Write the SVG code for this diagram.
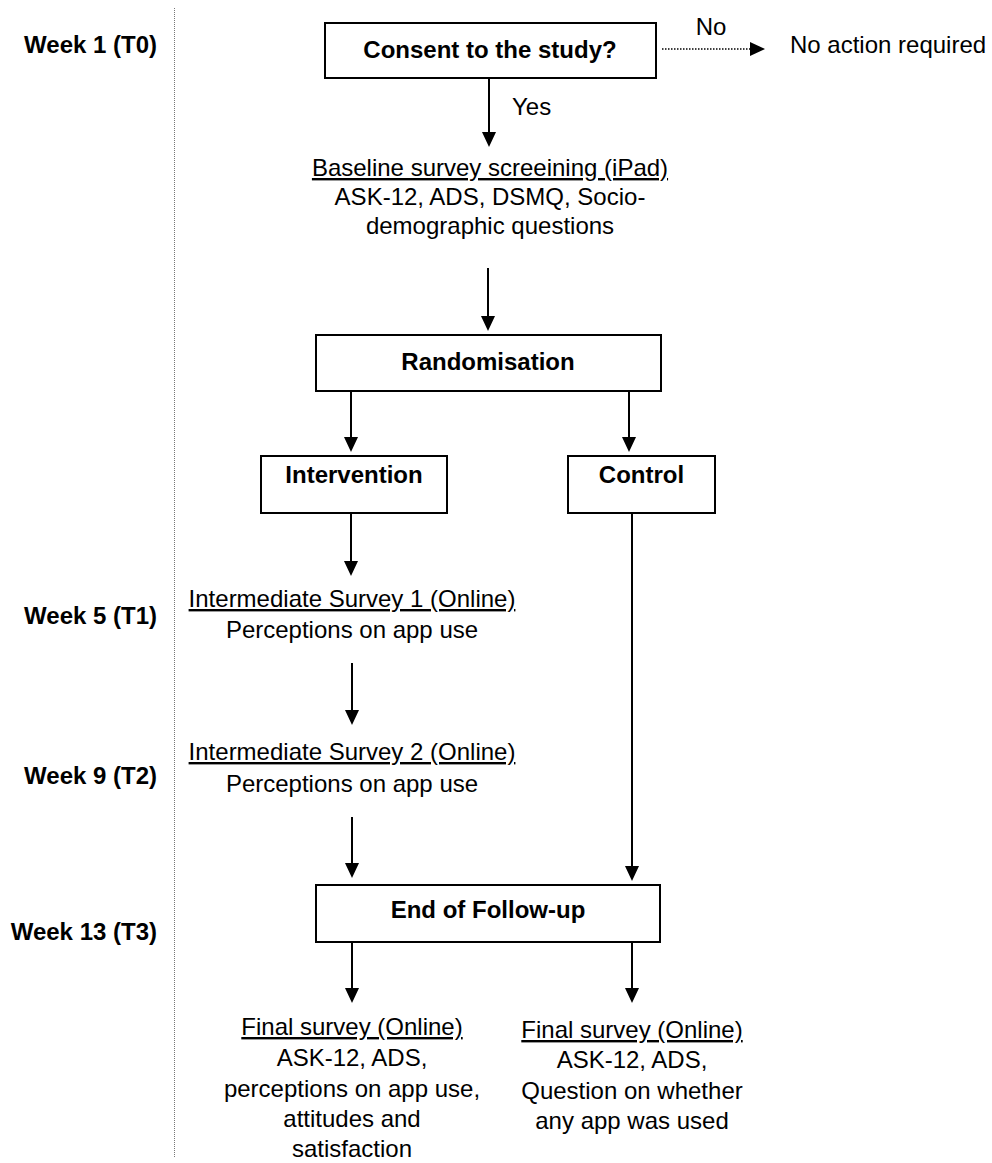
<svg xmlns="http://www.w3.org/2000/svg" width="992" height="1163" viewBox="0 0 992 1163">
  <style>
    text { font-family: "Liberation Sans", Arial, sans-serif; font-size: 24px; fill: #000; }
    .b { font-weight: bold; }
    .c { text-anchor: middle; }
    .wk { font-weight: bold; text-anchor: end; }
    .u { text-decoration: underline; }
    .box { fill: #fff; stroke: #000; stroke-width: 2; }
    .arr { stroke: #000; stroke-width: 2; fill: none; marker-end: url(#head); }
    .dot { stroke: #000; stroke-width: 1.5; stroke-dasharray: 1.5 1.5; fill: none; marker-end: url(#head); }
    .timeline { stroke: #777; stroke-width: 1; stroke-dasharray: 1 1; fill: none; }
  </style>
  <defs>
    <marker id="head" viewBox="0 0 15 14" refX="7" refY="7" markerWidth="15" markerHeight="14" markerUnits="userSpaceOnUse" orient="auto">
      <path d="M0,0 L15,7 L0,14 Z" fill="#000"/>
    </marker>
  </defs>

  <!-- time axis -->
  <g id="timeline">
    <line class="timeline" x1="174.5" y1="8" x2="174.5" y2="1157"/>
    <text class="wk" x="157" y="53">Week 1 (T0)</text>
    <text class="wk" x="157" y="624">Week 5 (T1)</text>
    <text class="wk" x="157" y="784">Week 9 (T2)</text>
    <text class="wk" x="157" y="940">Week 13 (T3)</text>
  </g>

  <!-- connectors (line end + 8 = arrow tip) -->
  <g id="connectors">
    <line class="dot" x1="662" y1="49" x2="757" y2="49"/>
    <text x="711" y="35" class="c">No</text>
    <line class="arr" x1="489" y1="78" x2="489" y2="139"/>
    <text x="512" y="115">Yes</text>
    <line class="arr" x1="488" y1="268" x2="488" y2="323"/>
    <line class="arr" x1="351" y1="391" x2="351" y2="444"/>
    <line class="arr" x1="629" y1="391" x2="629" y2="444"/>
    <line class="arr" x1="351" y1="513" x2="351" y2="568"/>
    <line class="arr" x1="352" y1="663" x2="352" y2="717"/>
    <line class="arr" x1="352" y1="817" x2="352" y2="870"/>
    <line class="arr" x1="632" y1="513" x2="632" y2="873"/>
    <line class="arr" x1="352" y1="942" x2="352" y2="995"/>
    <line class="arr" x1="632" y1="942" x2="632" y2="995"/>
  </g>

  <g id="consent">
    <rect class="box" x="325" y="23" width="331" height="55"/>
    <text class="b c" x="490" y="58">Consent to the study?</text>
  </g>

  <g id="no-action">
    <text x="790" y="53">No action required</text>
  </g>

  <g id="baseline">
    <text class="c u" x="490" y="176">Baseline survey screeining (iPad)</text>
    <text class="c" x="490" y="205">ASK-12, ADS, DSMQ, Socio-</text>
    <text class="c" x="490" y="234">demographic questions</text>
  </g>

  <g id="randomisation">
    <rect class="box" x="316" y="335" width="345" height="56"/>
    <text class="b c" x="488" y="370">Randomisation</text>
  </g>

  <g id="intervention">
    <rect class="box" x="261" y="456" width="186" height="57"/>
    <text class="b c" x="354" y="483">Intervention</text>
  </g>

  <g id="control">
    <rect class="box" x="568" y="456" width="147" height="57"/>
    <text class="b c" x="641.5" y="483">Control</text>
  </g>

  <g id="survey1">
    <text class="c u" x="352" y="607">Intermediate Survey 1 (Online)</text>
    <text class="c" x="352" y="638">Perceptions on app use</text>
  </g>

  <g id="survey2">
    <text class="c u" x="352" y="760">Intermediate Survey 2 (Online)</text>
    <text class="c" x="352" y="792">Perceptions on app use</text>
  </g>

  <g id="end-follow-up">
    <rect class="box" x="316" y="885" width="344" height="57"/>
    <text class="b c" x="488" y="918">End of Follow-up</text>
  </g>

  <g id="final-intervention">
    <text class="c u" x="352" y="1035">Final survey (Online)</text>
    <text class="c" x="352" y="1066">ASK-12, ADS,</text>
    <text class="c" x="352" y="1097">perceptions on app use,</text>
    <text class="c" x="352" y="1127">attitudes and</text>
    <text class="c" x="352" y="1157">satisfaction</text>
  </g>

  <g id="final-control">
    <text class="c u" x="632" y="1038">Final survey (Online)</text>
    <text class="c" x="632" y="1068">ASK-12, ADS,</text>
    <text class="c" x="632" y="1099">Question on whether</text>
    <text class="c" x="632" y="1129">any app was used</text>
  </g>
</svg>
